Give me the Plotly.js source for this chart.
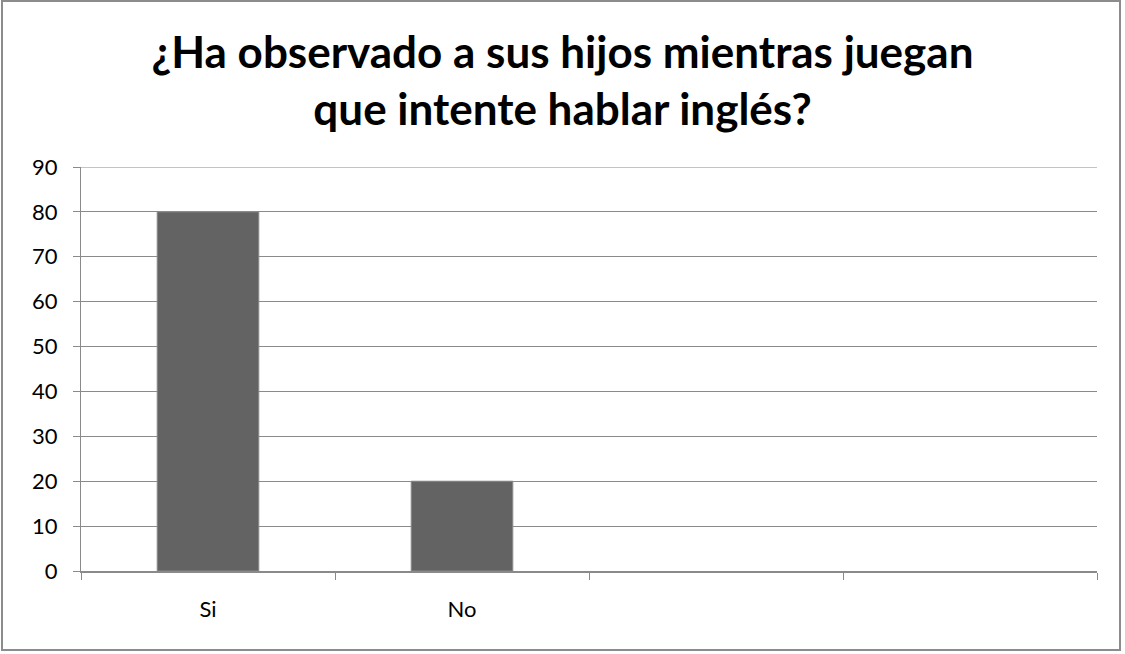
<!DOCTYPE html>
<html>
<head>
<meta charset="utf-8">
<script src="https://cdn.plot.ly/plotly-3.0.1.min.js"></script>
<style>
  html, body { margin: 0; padding: 0; background: #fff; }
  #chart { width: 1125px; height: 654px; position: absolute; left: 0; top: 0; }
  #frame { position: absolute; left: 1px; top: 0px; width: 1120px; height: 651px; border: 2px solid #8c8c8c; box-sizing: border-box; pointer-events: none; }
</style>
</head>
<body>
<div id="chart"></div>
<div id="frame"></div>
<script>
const titleText = "¿Ha observado a sus hijos mientras juegan<br>que intente hablar inglés?";
const categories = ["Si", "No", " ", "  "];
const values = [80, 20, null, null];
const yTicks = [0, 10, 20, 30, 40, 50, 60, 70, 80, 90];
const yMax = 90;

const trace = {
  type: "bar",
  x: categories,
  y: values,
  marker: { color: "#636363", line: { color: "#8a8a8a", width: 1 } },
  hoverinfo: "skip"
};

const layout = {
  width: 1125,
  height: 654,
  margin: { l: 81, r: 28, t: 167, b: 83 },
  paper_bgcolor: "#ffffff",
  plot_bgcolor: "#ffffff",
  showlegend: false,
  bargap: 0.6,
  font: { family: "Lato, 'Open Sans', sans-serif", color: "#000000", size: 22 },
  title: {
    text: titleText,
    font: { family: "Lato, 'Open Sans', sans-serif", size: 44, color: "#000000", weight: "bold" },
    x: 0.5,
    xanchor: "center",
    y: 0.896,
    yanchor: "middle"
  },
  shapes: [{
    type: "line", xref: "paper", yref: "y",
    x0: 0, x1: 1, y0: yMax, y1: yMax,
    line: { color: "#8a8a8a", width: 1 }
  }],
  xaxis: {
    type: "category",
    categoryorder: "array",
    categoryarray: categories,
    range: [-0.5, 3.5],
    tickson: "boundaries",
    ticks: "outside",
    ticklen: 7,
    tickcolor: "#8a8a8a",
    tickwidth: 1,
    showline: true,
    linecolor: "#8a8a8a",
    linewidth: 2,
    showgrid: false,
    zeroline: false,
    tickfont: { size: 22, color: "#000" },
    ticklabelstandoff: 18,
    fixedrange: true
  },
  yaxis: {
    range: [0, yMax],
    tickvals: yTicks,
    ticktext: yTicks.map(String),
    ticks: "outside",
    ticklen: 7,
    tickcolor: "#8a8a8a",
    tickwidth: 1,
    showline: true,
    linecolor: "#8a8a8a",
    linewidth: 1,
    showgrid: true,
    gridcolor: "#8a8a8a",
    gridwidth: 1,
    zeroline: false,
    tickfont: { size: 22, color: "#000" },
    ticklabelstandoff: 11,
    fixedrange: true
  }
};

Plotly.newPlot("chart", [trace], layout, { displayModeBar: false, staticPlot: true });
</script>
</body>
</html>
